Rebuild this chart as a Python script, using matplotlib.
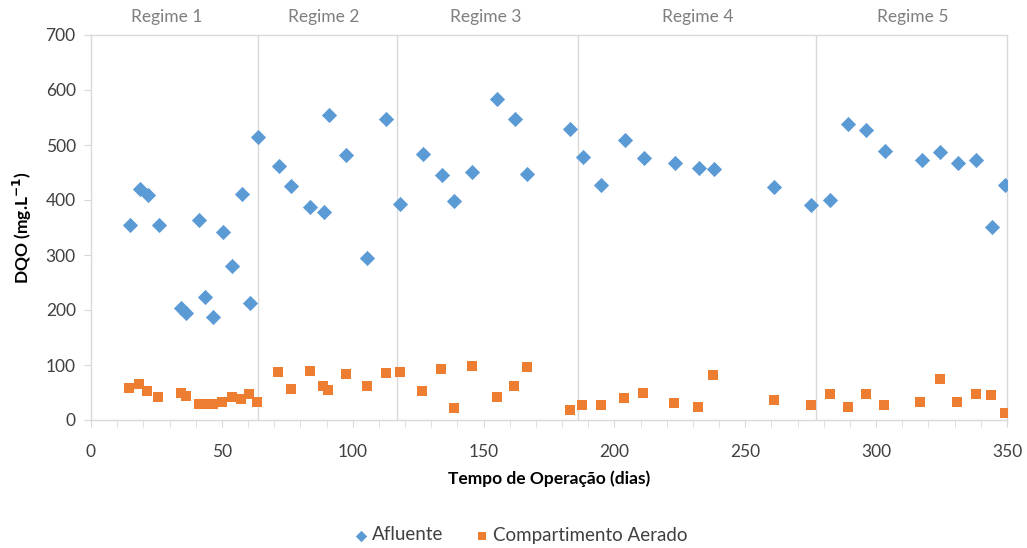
import matplotlib
matplotlib.use("Agg")
import matplotlib.pyplot as plt
from matplotlib.ticker import MultipleLocator

plt.rcParams['font.family'] = ['Lato', 'DejaVu Sans']

# Afluente (influent) COD
afl_x = [15, 18.6, 21.6, 26, 34.3, 36.3, 41.4, 43.7, 46.7, 50.6, 53.7, 57.6, 60.8, 63.8,
         71.8, 76.6, 83.8, 89, 90.8, 97.6, 105.6, 112.8, 118, 126.7, 134, 138.7, 145.7,
         155.1, 161.9, 166.7, 183, 187.9, 195, 203.9, 211.2, 223, 232.2, 238.2, 261.1,
         275, 282.4, 289.4, 296.2, 303.4, 317.4, 324.4, 331.4, 338.2, 344.2, 349.3]
afl_y = [355, 420, 409, 354, 204, 194, 363, 224, 187, 342, 280, 411, 213, 515,
         462, 426, 388, 378, 555, 481, 295, 547, 393, 484, 445, 398, 451,
         584, 547, 447, 529, 478, 428, 510, 476, 468, 458, 456, 424,
         390, 400, 538, 527, 490, 473, 487, 468, 473, 351, 428]

# Compartimento Aerado COD
aer_x = [14.6, 18.3, 21.5, 25.6, 34.3, 36.3, 41.4, 43.9, 46.5, 49.9, 53.7, 57.2, 60.5, 63.5,
         71.5, 76.3, 83.7, 88.5, 90.6, 97.4, 105.3, 112.6, 117.9, 126.3, 133.6, 138.7, 145.7,
         155, 161.6, 166.7, 182.9, 187.7, 194.9, 203.7, 210.9, 222.9, 232.1, 237.8, 261.1,
         275, 282.2, 289.1, 296, 303.1, 316.9, 324.3, 331, 338, 344, 349.1]
aer_y = [59, 65, 52, 41, 50, 44, 29, 30, 30, 32, 42, 38, 48, 33,
         87, 57, 90, 62, 54, 83, 62, 85, 87, 52, 92, 21, 99,
         41, 62, 96, 19, 28, 27, 40, 50, 31, 23, 81, 36,
         28, 47, 23, 47, 28, 32, 74, 33, 47, 45, 13]

regime_bounds = [64, 117, 186, 277]
regime_labels = ['Regime 1', 'Regime 2', 'Regime 3', 'Regime 4', 'Regime 5']
regime_label_x = [29, 89, 151, 232, 314]

blue = '#5B9BD5'
orange = '#ED7D31'
grid_c = '#D9D9D9'
text_c = '#404040'

fig = plt.figure(figsize=(10.27, 5.48), dpi=100)
ax = fig.add_axes([91/1027, 1-420/548, (1007-91)/1027, (420-35)/548])

ax.scatter(afl_x, afl_y, marker='D', s=60, color=blue, linewidths=0, label='Afluente', zorder=3)
ax.scatter(aer_x, aer_y, marker='s', s=60, color=orange, linewidths=0,
           label='Compartimento Aerado', zorder=3)

for b in regime_bounds:
    ax.axvline(b, color=grid_c, lw=1, zorder=1)

for lx, lab in zip(regime_label_x, regime_labels):
    ax.text(lx, 1.025, lab, transform=ax.get_xaxis_transform(), ha='center', va='bottom',
            fontsize=12.5, color='#7F7F7F')

ax.set_xlim(0, 350)
ax.set_ylim(0, 700)
ax.xaxis.set_major_locator(MultipleLocator(50))
ax.xaxis.set_minor_locator(MultipleLocator(10))
ax.yaxis.set_major_locator(MultipleLocator(100))

for s in ax.spines.values():
    s.set_color(grid_c)
    s.set_linewidth(1)

ax.tick_params(axis='x', which='both', direction='out', length=5, color=grid_c,
               labelsize=12.5, labelcolor=text_c, pad=12)
ax.tick_params(axis='y', which='major', direction='out', length=5, color=grid_c,
               labelsize=12.5, labelcolor=text_c, pad=6)

ax.set_xlabel('Tempo de Operação (dias)', fontsize=12.5, fontweight='bold', color='black', labelpad=8)
ax.set_ylabel(r'DQO (mg.L$^{\mathbf{-1}}$)', fontsize=12.5, fontweight='bold', color='black', labelpad=8)

leg = fig.legend(loc='center', bbox_to_anchor=(0.508, 1 - 535/548),
                 ncol=2, frameon=False, fontsize=13.5, handlelength=0.5,
                 handletextpad=0.35, columnspacing=1.8, markerscale=0.75)
for t in leg.get_texts():
    t.set_color(text_c)

fig.savefig('out.png', dpi=100)
